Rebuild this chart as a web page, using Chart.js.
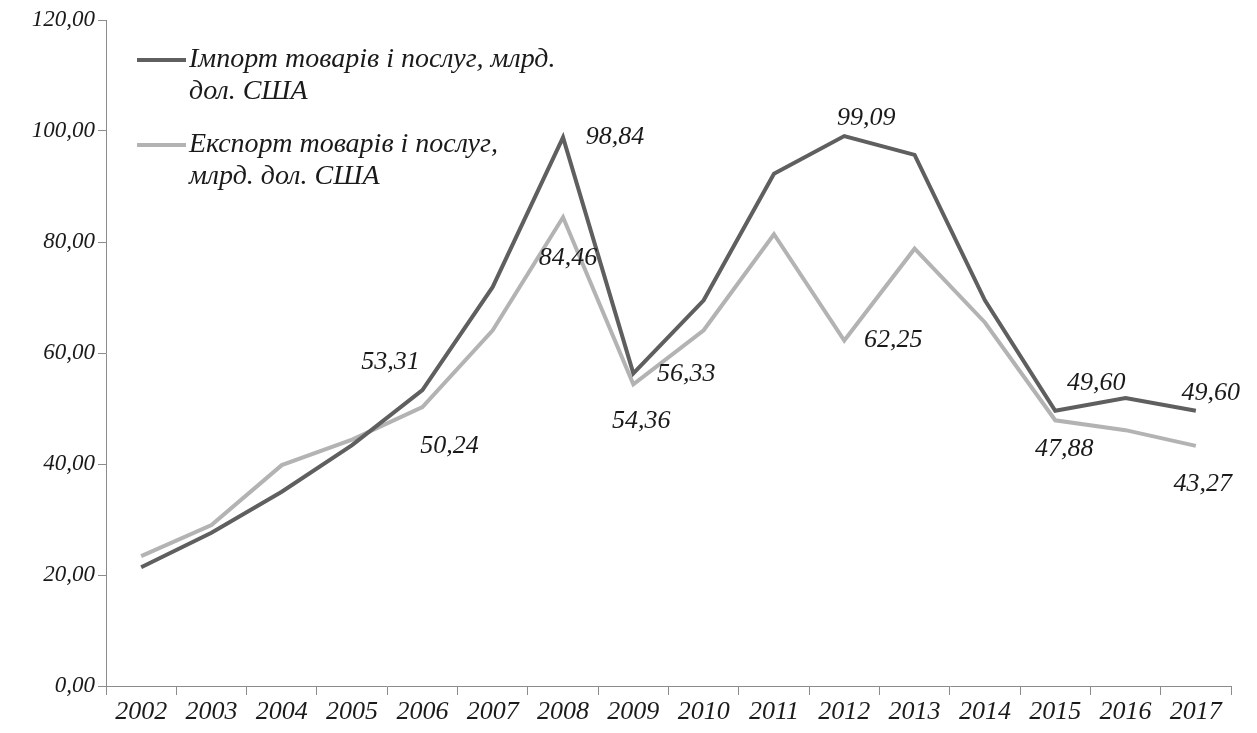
<!DOCTYPE html>
<html lang="uk">
<head>
    <meta charset="UTF-8">
    <title>Імпорт і експорт товарів і послуг</title>
    <script src="https://cdn.jsdelivr.net/npm/chart.js"></script>
    <style>
        html, body { margin: 0; padding: 0; background: #ffffff; }
        .chart-container { position: relative; width: 1257px; height: 733px; }
    </style>
</head>
<body>
    <div class="chart-container">
        <canvas id="tradeChart"></canvas>
    </div>

    <script>
        const years = ['2002', '2003', '2004', '2005', '2006', '2007', '2008', '2009',
                       '2010', '2011', '2012', '2013', '2014', '2015', '2016', '2017'];
        const importValues = [21.4, 27.6, 35.0, 43.4, 53.31, 71.9, 98.84, 56.33,
                              69.5, 92.3, 99.09, 95.7, 69.5, 49.60, 51.9, 49.60];
        const exportValues = [23.4, 29.0, 39.8, 44.4, 50.24, 64.1, 84.46, 54.36,
                              64.1, 81.4, 62.25, 78.8, 65.5, 47.88, 46.1, 43.27];
        const importLabel = ['Імпорт товарів і послуг, млрд.', 'дол. США'];
        const exportLabel = ['Експорт товарів і послуг,', 'млрд. дол. США'];
        const yTicks = [0, 20, 40, 60, 80, 100, 120];

        // which points get a value label, and where it sits relative to the point
        const labelledPoints = [
            { ds: 0, idx: 4, dx: -32, dy: -28 },
            { ds: 1, idx: 4, dx: 27, dy: 39 },
            { ds: 0, idx: 6, dx: 52, dy: 0 },
            { ds: 1, idx: 6, dx: 5, dy: 41 },
            { ds: 0, idx: 7, dx: 53, dy: 1 },
            { ds: 1, idx: 7, dx: 8, dy: 37 },
            { ds: 0, idx: 10, dx: 22, dy: -18 },
            { ds: 1, idx: 10, dx: 49, dy: 0 },
            { ds: 0, idx: 13, dx: 41, dy: -28 },
            { ds: 1, idx: 13, dx: 9, dy: 29 },
            { ds: 0, idx: 15, dx: 15, dy: -18 },
            { ds: 1, idx: 15, dx: 7, dy: 38 }
        ];

        const colors = { dark: '#5f5f5f', light: '#b3b3b3', axis: '#8c8c8c', text: '#1a1a1a' };
        const serif = "'Liberation Serif', 'DejaVu Serif', serif";
        const fmt = v => v.toFixed(2).replace('.', ',');

        const valueLabels = {
            id: 'valueLabels',
            afterDatasetsDraw(chart) {
                const ctx = chart.ctx;
                ctx.save();
                ctx.font = 'italic 26px ' + serif;
                ctx.fillStyle = colors.text;
                ctx.textAlign = 'center';
                ctx.textBaseline = 'middle';
                labelledPoints.forEach(p => {
                    const pt = chart.getDatasetMeta(p.ds).data[p.idx];
                    const v = chart.data.datasets[p.ds].data[p.idx];
                    ctx.fillText(fmt(v), pt.x + p.dx, pt.y + p.dy);
                });
                ctx.restore();
            }
        };

        const innerLegend = {
            id: 'innerLegend',
            afterDraw(chart) {
                const ctx = chart.ctx;
                const entries = [
                    { lines: importLabel, color: colors.dark, y: 60 },
                    { lines: exportLabel, color: colors.light, y: 145 }
                ];
                ctx.save();
                ctx.font = 'italic 28px ' + serif;
                ctx.fillStyle = colors.text;
                ctx.textBaseline = 'middle';
                ctx.textAlign = 'left';
                entries.forEach(e => {
                    ctx.strokeStyle = e.color;
                    ctx.lineWidth = 4;
                    ctx.beginPath();
                    ctx.moveTo(137, e.y);
                    ctx.lineTo(186, e.y);
                    ctx.stroke();
                    e.lines.forEach((t, i) => ctx.fillText(t, 189, e.y + i * 32));
                });
                ctx.restore();
            }
        };

        new Chart(document.getElementById('tradeChart'), {
            type: 'line',
            data: {
                labels: years,
                datasets: [
                    {
                        label: importLabel.join(' '),
                        data: importValues,
                        borderColor: colors.dark,
                        borderWidth: 4,
                        pointRadius: 0,
                        tension: 0
                    },
                    {
                        label: exportLabel.join(' '),
                        data: exportValues,
                        borderColor: colors.light,
                        borderWidth: 4,
                        pointRadius: 0,
                        tension: 0
                    }
                ]
            },
            options: {
                responsive: true,
                maintainAspectRatio: false,
                animation: false,
                layout: { padding: { top: 20, right: 26, left: 0, bottom: 0 } },
                scales: {
                    x: {
                        offset: true,
                        grid: {
                            offset: true,
                            drawOnChartArea: false,
                            drawTicks: true,
                            tickLength: 9,
                            color: colors.axis
                        },
                        border: { color: colors.axis, width: 1 },
                        ticks: {
                            color: colors.text,
                            font: { family: serif, style: 'italic', size: 26 },
                            padding: 2,
                            maxRotation: 0,
                            autoSkip: false
                        },
                        afterFit(scale) { scale.height = 47; }
                    },
                    y: {
                        min: 0,
                        max: 120,
                        afterBuildTicks(scale) { scale.ticks = yTicks.map(v => ({ value: v })); },
                        grid: {
                            drawOnChartArea: false,
                            drawTicks: true,
                            tickLength: 8,
                            color: colors.axis
                        },
                        border: { color: colors.axis, width: 1 },
                        ticks: {
                            color: colors.text,
                            font: { family: serif, style: 'italic', size: 23 },
                            padding: 3,
                            callback: v => fmt(v)
                        },
                        afterFit(scale) { scale.width = 106; }
                    }
                },
                plugins: {
                    legend: { display: false },
                    tooltip: { enabled: false }
                }
            },
            plugins: [valueLabels, innerLegend]
        });
    </script>
</body>
</html>
